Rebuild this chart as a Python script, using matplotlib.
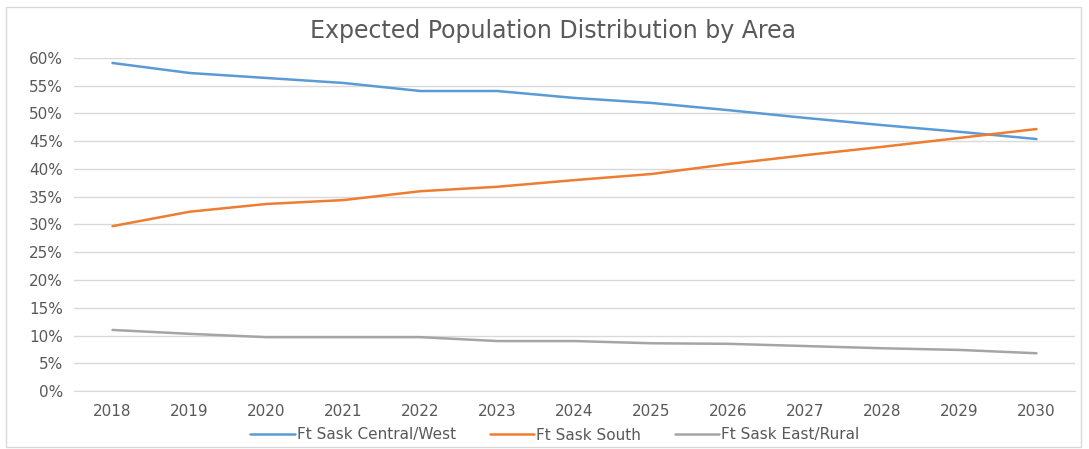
import matplotlib
matplotlib.use("Agg")
import matplotlib.pyplot as plt
from matplotlib.patches import Rectangle
from matplotlib.ticker import FuncFormatter, MultipleLocator

plt.rcParams['font.family'] = ['DejaVu Sans']

years = ["2018", "2019", "2020", "2021", "2022", "2023", "2024",
         "2025", "2026", "2027", "2028", "2029", "2030"]
central_west = [59.1, 57.3, 56.4, 55.5, 54.05, 54.05, 52.8, 51.9, 50.6, 49.2, 47.9, 46.7, 45.4]
south = [29.7, 32.3, 33.7, 34.4, 36.0, 36.8, 38.0, 39.1, 40.9, 42.5, 44.0, 45.6, 47.2]
east_rural = [11.0, 10.3, 9.7, 9.7, 9.7, 9.0, 9.0, 8.6, 8.5, 8.1, 7.7, 7.4, 6.8]
series_names = ["Ft Sask Central/West", "Ft Sask South", "Ft Sask East/Rural"]
colors = ["#5B9BD5", "#ED7D31", "#A5A5A5"]

W, H = 1089, 449
fig = plt.figure(figsize=(W / 100, H / 100), dpi=100)
txt = "#595959"

# axes: x 74..1075, y 58..391 (pixels)
ax = fig.add_axes([74 / W, 1 - 391 / H, (1075 - 74) / W, (391 - 58) / H])
x = list(range(len(years)))
for vals, name, c in zip([central_west, south, east_rural], series_names, colors):
    ax.plot(x, vals, color=c, lw=1.8, label=name, solid_capstyle='round')

ax.set_xlim(-0.5, len(years) - 0.5)
ax.set_ylim(0, 60)
ax.yaxis.set_major_locator(MultipleLocator(5))
ax.yaxis.set_major_formatter(FuncFormatter(lambda v, p: f"{v:.0f}%"))
ax.set_xticks(x)
ax.set_xticklabels(years)
ax.grid(axis='y', color='#D9D9D9', lw=1)
ax.set_axisbelow(True)
for s in ['top', 'right', 'left']:
    ax.spines[s].set_visible(False)
ax.spines['bottom'].set_color('#D9D9D9')
ax.tick_params(axis='both', length=0, colors=txt, labelsize=11)
ax.tick_params(axis='x', pad=9)
ax.tick_params(axis='y', pad=8)

fig.text(553 / W, 1 - 31 / H, "Expected Population Distribution by Area",
         ha='center', va='center', fontsize=17, color=txt)

leg = fig.legend(loc='center', bbox_to_anchor=(555 / W, 1 - 435 / H), ncol=3,
                 frameon=False, fontsize=11, labelcolor=txt,
                 handlelength=2.9, handletextpad=0.15, columnspacing=2.2)

fig.add_artist(Rectangle((6 / W, 1 - 447 / H), (1081 - 6) / W, (447 - 7) / H,
                         transform=fig.transFigure, fill=False,
                         edgecolor='#D9D9D9', lw=1))

fig.savefig("out.png", dpi=100)
